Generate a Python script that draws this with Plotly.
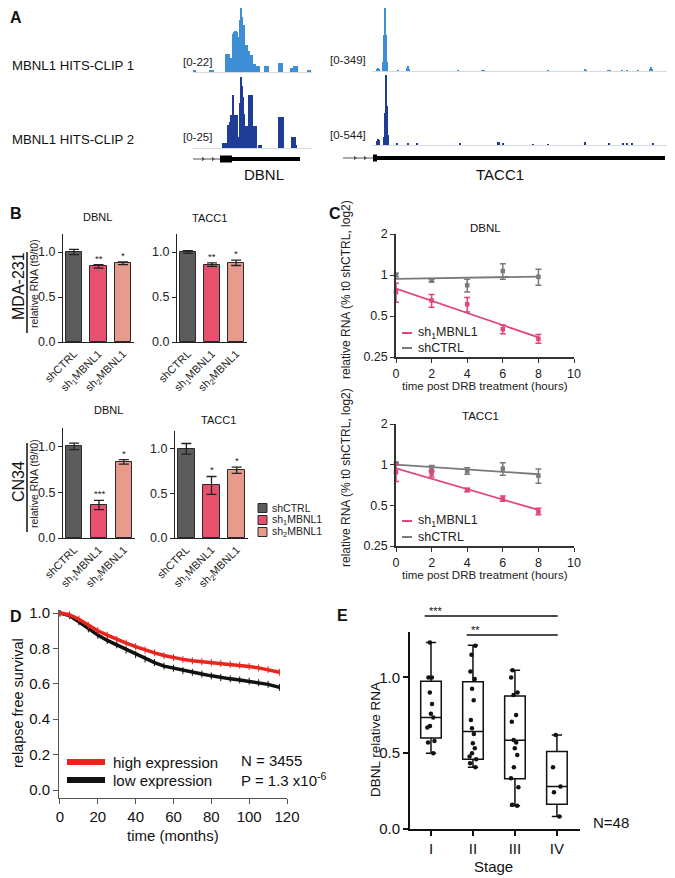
import numpy as np
import plotly.graph_objects as go

# The page body adds an 8 px offset, so the figure is sized to fill the window from there.
OFF = 8
W, H = 675 - OFF, 878 - OFF
FONT = "Liberation Sans, Arial, sans-serif"


def fx(p):
    return (p - OFF) / W


def fy(p):
    return 1 - (p - OFF) / H


# ---------------- Panel A data (coverage tracks) ----------------
dbnl_clip1_pos = [0, 1, 2, 17, 18, 19, 20, 33, 34, 35, 36, 37, 38, 39, 40, 41, 42, 43, 44, 45, 46,
                  47, 48, 49, 50, 51, 52, 53, 54, 55, 56, 57, 58, 59, 60, 61, 62, 64, 65, 66,
                  72, 73, 74, 75, 86, 87, 88, 89, 98, 99, 100, 101, 102, 103, 104, 115, 116, 117]
dbnl_clip1_val = [0.6, 0.6, 0.6, 0.8, 0.8, 0.8, 0.8, 6.3, 6.3, 6.3, 6.3, 4.7, 4.7, 4.7, 13.0, 13.6, 14, 14, 13.6, 12, 12,
                  18, 22, 19, 16, 16, 9.4, 9.4, 9.4, 7.3, 7.3, 5.8, 5.8, 5.8, 2.6, 2.6, 2.6, 2, 2, 2,
                  2, 2, 2, 2, 3, 3, 3, 3, 1.5, 1.5, 1.5, 2, 2, 2, 2, 0.8, 0.8, 0.8]
dbnl_clip2_pos = [30, 31, 32, 33, 34, 35, 36, 37, 38, 39, 40, 41, 42, 43, 44, 45, 46,
                  47, 48, 49, 50, 51, 52, 53, 54, 55, 56, 57, 58, 59, 60, 61, 62, 63,
                  66, 67, 68, 86, 87, 88, 89, 90, 99, 100, 101, 102, 103]
dbnl_clip2_val = [1.7, 1.7, 1.7, 1.7, 1.7, 8, 8, 9, 11.6, 11.6, 18.6, 11.6, 11.6, 11.6, 11.6, 4, 4,
                  16, 25, 22, 18, 12, 7.6, 7.6, 7.6, 7.6, 18.6, 18.6, 18.6, 18.6, 7.6, 7.6, 7.6, 7.6,
                  1, 1, 1, 11, 11, 11, 11, 11, 4, 4, 4, 4, 1]
tacc1_clip1_pos = [34, 35, 36, 40, 41, 42, 43, 44, 55, 64, 65, 66, 115, 139, 141, 205,
                   242, 243, 265, 267, 279, 284, 295, 307, 308, 309]
tacc1_clip1_val = [8, 14, 8, 50, 200, 349, 200, 50, 4, 15, 28, 12, 3, 4, 3, 3,
                   6, 4, 5, 5, 4, 4, 4, 12, 22, 12]
tacc1_clip2_pos = [34, 35, 36, 41, 42, 43, 44, 45, 54, 65, 74, 117, 155, 156, 160, 190,
                   205, 242, 266, 280, 284, 289, 310]
tacc1_clip2_val = [30, 50, 40, 60, 250, 544, 300, 80, 10, 15, 8, 8, 25, 20, 18, 6,
                   6, 20, 8, 12, 12, 12, 8]
dbnl_max = [22, 25]
tacc1_max = [349, 544]

# gene models (intron, first exon, gene body, strand arrows)
dbnl_intron = [0, 27]
dbnl_exon = [27, 39]
dbnl_body = [39, 107]
dbnl_arrows = [10, 20]
tacc1_intron = [0, 30]
tacc1_exon = [30, 34]
tacc1_body = [34, 322]
tacc1_arrows = [12, 22]

# ---------------- Panel B data ----------------
conditions = ["shCTRL", "sh<sub>1</sub>MBNL1", "sh<sub>2</sub>MBNL1"]
cond_colors = ["#5c5c5c", "#e8506e", "#e89b8c"]
mda_dbnl = [1.0, 0.84, 0.875]
mda_dbnl_err = [0.03, 0.02, 0.015]
mda_dbnl_sig = ["", "**", "*"]
mda_tacc1 = [1.0, 0.86, 0.88]
mda_tacc1_err = [0.015, 0.02, 0.03]
mda_tacc1_sig = ["", "**", "*"]
cn34_dbnl = [1.0, 0.36, 0.83]
cn34_dbnl_err = [0.035, 0.05, 0.025]
cn34_dbnl_sig = ["", "***", "*"]
cn34_tacc1 = [1.0, 0.59, 0.76]
cn34_tacc1_err = [0.06, 0.1, 0.035]
cn34_tacc1_sig = ["", "*", "*"]

# ---------------- Panel C data ----------------
hours = [0, 2, 4, 6, 8]
c_dbnl_ctrl = [1.0, 0.91, 0.84, 1.07, 0.97]
c_dbnl_ctrl_err = [0.03, 0.02, 0.09, 0.14, 0.13]
c_dbnl_sh1 = [0.75, 0.65, 0.61, 0.40, 0.34]
c_dbnl_sh1_err = [0.12, 0.07, 0.075, 0.03, 0.025]
c_tacc1_ctrl = [1.02, 0.935, 0.90, 0.935, 0.83]
c_tacc1_ctrl_err = [0.02, 0.05, 0.05, 0.1, 0.1]
c_tacc1_sh1 = [0.88, 0.86, 0.65, 0.56, 0.45]
c_tacc1_sh1_err = [0.13, 0.05, 0.02, 0.025, 0.025]

# ---------------- Panel D data ----------------
months = [0, 5, 10, 15, 20, 25, 30, 35, 40, 45, 50, 55, 60, 65, 70, 75, 80, 85, 90, 95, 100, 105, 110, 116]
surv_high = [1.0, 0.99, 0.965, 0.93, 0.90, 0.875, 0.85, 0.83, 0.81, 0.79, 0.775, 0.76, 0.748, 0.738,
             0.73, 0.725, 0.72, 0.715, 0.71, 0.705, 0.698, 0.69, 0.68, 0.665]
surv_low = [1.0, 0.985, 0.95, 0.91, 0.875, 0.845, 0.82, 0.79, 0.765, 0.74, 0.72, 0.70, 0.688, 0.675,
            0.665, 0.655, 0.645, 0.635, 0.628, 0.622, 0.615, 0.606, 0.597, 0.58]

# ---------------- Panel E data ----------------
stages = ["I", "II", "III", "IV"]
stage_points = [
    [1.23, 1.0, 1.0, 0.90, 0.825, 0.76, 0.735, 0.68, 0.67, 0.58, 0.57, 0.50],
    [1.21, 1.15, 1.04, 0.99, 0.925, 0.85, 0.72, 0.665, 0.627, 0.566, 0.533, 0.50, 0.478, 0.46, 0.434, 0.408],
    [1.048, 1.0, 0.90, 0.885, 0.752, 0.708, 0.588, 0.57, 0.533, 0.489, 0.408, 0.335, 0.276, 0.16, 0.153],
    [0.62, 0.408, 0.281, 0.243, 0.083],
]
box_low = [0.50, 0.408, 0.153, 0.083]
box_q1 = [0.60, 0.46, 0.331, 0.164]
box_med = [0.735, 0.643, 0.585, 0.281]
box_q3 = [0.975, 0.971, 0.877, 0.511]
box_high = [1.23, 1.213, 1.048, 0.62]

fig = go.Figure()
layout = {}


def clamp(v):
    return max(0.0, min(1.0, v))


def add_axes(n, xd, yd, **kw):
    xa = dict(domain=[clamp(fx(xd[0])), clamp(fx(xd[1]))], anchor=f"y{n}", showgrid=False, zeroline=False,
              automargin=False)
    ya = dict(domain=[clamp(fy(yd[1])), clamp(fy(yd[0]))], anchor=f"x{n}", showgrid=False, zeroline=False,
              automargin=False)
    xa.update(kw.get("x", {}))
    ya.update(kw.get("y", {}))
    layout["xaxis" if n == 1 else f"xaxis{n}"] = xa
    layout["yaxis" if n == 1 else f"yaxis{n}"] = ya


def ax(n):
    return ("x" if n == 1 else f"x{n}"), ("y" if n == 1 else f"y{n}")


# ---- Panel A ----
blue1, blue2 = "#3e8fd6", "#1f3d97"
track_x = dict(showticklabels=False, ticks="", showline=True, linecolor="#d5dae3", linewidth=1)
hid = dict(visible=False)
add_axes(1, (193, 312), (2, 72), x=dict(range=[0, 119], **track_x), y=dict(range=[0, dbnl_max[0]], **hid))
add_axes(2, (193, 312), (77, 148), x=dict(range=[0, 119], **track_x), y=dict(range=[0, dbnl_max[1]], **hid))
add_axes(3, (193, 312), (153, 165), x=dict(range=[0, 119], **hid), y=dict(range=[-1, 1], **hid))
add_axes(4, (372, 675), (2, 71), x=dict(range=[29, 332], **track_x), y=dict(range=[0, tacc1_max[0]], **hid))
add_axes(5, (372, 675), (75, 145), x=dict(range=[29, 332], **track_x), y=dict(range=[0, tacc1_max[1]], **hid))
add_axes(6, (343, 675), (152, 164), x=dict(range=[0, 332], **hid), y=dict(range=[-1, 1], **hid))

for n, pos, val, col in [(1, dbnl_clip1_pos, dbnl_clip1_val, blue1), (2, dbnl_clip2_pos, dbnl_clip2_val, blue2),
                         (4, tacc1_clip1_pos, tacc1_clip1_val, blue1), (5, tacc1_clip2_pos, tacc1_clip2_val, blue2)]:
    xr, yr = ax(n)
    fig.add_trace(go.Bar(x=pos, y=val, width=1, marker=dict(color=col, line=dict(width=0)),
                         xaxis=xr, yaxis=yr, showlegend=False))

for n, intron, exon, body, arrows in [(3, dbnl_intron, dbnl_exon, dbnl_body, dbnl_arrows),
                                      (6, tacc1_intron, tacc1_exon, tacc1_body, tacc1_arrows)]:
    xr, yr = ax(n)
    fig.add_trace(go.Scatter(x=intron, y=[0, 0], mode="lines", line=dict(color="#555", width=1),
                             xaxis=xr, yaxis=yr, showlegend=False))
    fig.add_trace(go.Scatter(x=arrows, y=[0] * len(arrows), mode="markers",
                             marker=dict(symbol="triangle-right", size=4, color="#555"),
                             xaxis=xr, yaxis=yr, showlegend=False))
    fig.add_trace(go.Scatter(x=exon, y=[0, 0], mode="lines", line=dict(color="#000", width=7),
                             xaxis=xr, yaxis=yr, showlegend=False))
    fig.add_trace(go.Scatter(x=body, y=[0, 0], mode="lines", line=dict(color="#000", width=4),
                             xaxis=xr, yaxis=yr, showlegend=False))

# ---- Panel B ----
annotations = []
shapes = []
bx = dict(type="category", range=[-0.45, 2.45], showline=True, linecolor="#222", linewidth=1.3,
          tickangle=-45, tickfont=dict(size=11, color="#222", family=FONT), ticks="")
by = dict(range=[0, 1.2], showline=True, linecolor="#222", linewidth=1.3, ticks="outside", ticklen=4,
          tickwidth=1.2, tickcolor="#222", tickvals=[0, 0.5, 1.0], ticktext=["0.0", "0.5", "1.0"],
          tickfont=dict(size=12.5, color="#222", family=FONT))
add_axes(7, (63, 134), (234, 342), x=dict(bx), y=dict(by))
add_axes(8, (177, 247), (234, 342), x=dict(bx), y=dict(by))
add_axes(9, (63, 135), (428, 538), x=dict(bx), y=dict(by))
add_axes(10, (175, 248), (431, 538), x=dict(bx), y=dict(by))

for n, vals, errs, sig in [(7, mda_dbnl, mda_dbnl_err, mda_dbnl_sig), (8, mda_tacc1, mda_tacc1_err, mda_tacc1_sig),
                           (9, cn34_dbnl, cn34_dbnl_err, cn34_dbnl_sig), (10, cn34_tacc1, cn34_tacc1_err, cn34_tacc1_sig)]:
    xr, yr = ax(n)
    fig.add_trace(go.Bar(x=conditions, y=vals, width=0.66,
                         marker=dict(color=cond_colors, line=dict(color="#2a2a2a", width=1)),
                         error_y=dict(type="data", array=errs, color="#222", thickness=1.3, width=5),
                         xaxis=xr, yaxis=yr, showlegend=False))
    for c, v, e, s in zip(conditions, vals, errs, sig):
        if s:
            annotations.append(dict(xref=xr, yref=yr, x=c, y=v + e, text=s, showarrow=False, yanchor="bottom",
                                    yshift=-1, font=dict(size=9.5, color="#222", family=FONT)))

# ---- Panel C ----
cx = dict(range=[0, 10], showline=True, linecolor="#333", linewidth=1.5, ticks="outside", ticklen=4,
          tickcolor="#333", tickvals=[0, 2, 4, 6, 8, 10], tickfont=dict(size=12.5, color="#222", family=FONT))
cy = dict(type="log", range=[np.log10(0.25), np.log10(2)], showline=True, linecolor="#333", linewidth=1.5,
          ticks="outside", ticklen=4, tickcolor="#333", tickvals=[0.25, 0.5, 1, 2],
          ticktext=["0.25", "0.5", "1", "2"], tickfont=dict(size=12.5, color="#222", family=FONT))
add_axes(11, (396, 574), (234, 357), x=dict(cx), y=dict(cy))
add_axes(12, (396, 574), (424, 546), x=dict(cx), y=dict(cy))
pink, grey = "#e0457b", "#7a7a7a"
for n, ctrl, ctrl_e, sh1, sh1_e in [(11, c_dbnl_ctrl, c_dbnl_ctrl_err, c_dbnl_sh1, c_dbnl_sh1_err),
                                    (12, c_tacc1_ctrl, c_tacc1_ctrl_err, c_tacc1_sh1, c_tacc1_sh1_err)]:
    xr, yr = ax(n)
    for vals, errs, col in [(ctrl, ctrl_e, grey), (sh1, sh1_e, pink)]:
        k, b = np.polyfit(hours, np.log2(vals), 1)
        xs = [min(hours), max(hours)]
        fig.add_trace(go.Scatter(x=xs, y=[2 ** (b + k * t) for t in xs], mode="lines",
                                 line=dict(color=col, width=1.8), xaxis=xr, yaxis=yr, showlegend=False))
        fig.add_trace(go.Scatter(x=hours, y=vals, mode="markers",
                                 marker=dict(symbol="square", size=4.5, color=col),
                                 error_y=dict(type="data", array=errs, color=col, thickness=1.5, width=3),
                                 xaxis=xr, yaxis=yr, showlegend=False, cliponaxis=False))

# ---- Panel D ----
add_axes(13, (59, 287), (610, 798),
         x=dict(range=[-0.5, 120], showline=True, linecolor="#555", linewidth=1, ticks="outside", ticklen=5,
                tickcolor="#555", tickvals=[0, 20, 40, 60, 80, 100, 120],
                tickfont=dict(size=15, color="#111", family=FONT)),
         y=dict(range=[-0.045, 1.017], showline=True, linecolor="#555", linewidth=1, ticks="outside", ticklen=5,
                tickcolor="#555", tickvals=[0, 0.2, 0.4, 0.6, 0.8, 1.0],
                ticktext=["0.0", "0.2", "0.4", "0.6", "0.8", "1.0"], tickfont=dict(size=15, color="#111", family=FONT)))
for vals, col in [(surv_low, "#111111"), (surv_high, "#e8261e")]:
    fig.add_trace(go.Scatter(x=months, y=vals, mode="lines+markers", line=dict(color=col, width=3.5),
                             marker=dict(symbol="line-ns", size=5, line=dict(color=col, width=1)),
                             xaxis="x13", yaxis="y13", showlegend=False))

# ---- Panel E ----
add_axes(14, (410, 580), (632, 829),
         x=dict(type="category", range=[-0.5, 3.55], showline=True, linecolor="#111", linewidth=2,
                ticks="outside", ticklen=5, tickwidth=2, tickcolor="#111",
                tickfont=dict(size=15, color="#111", family=FONT)),
         y=dict(range=[0, 1.3], showline=True, linecolor="#111", linewidth=2, ticks="outside", ticklen=5,
                tickwidth=2, tickcolor="#111", tickvals=[0, 0.5, 1.0], ticktext=["0.0", "0.5", "1.0"],
                tickfont=dict(size=15, color="#111", family=FONT)))
fig.add_trace(go.Box(x=stages, q1=box_q1, median=box_med, q3=box_q3, lowerfence=box_low, upperfence=box_high,
                     fillcolor="white", line=dict(color="#111", width=1.5), whiskerwidth=0.5,
                     boxpoints=False, xaxis="x14", yaxis="y14", showlegend=False))
for s, pts in zip(stages, stage_points):
    fig.add_trace(go.Box(x=[s] * len(pts), y=pts, boxpoints="all", jitter=0.45, pointpos=0,
                         fillcolor="rgba(0,0,0,0)", line=dict(color="rgba(0,0,0,0)", width=0),
                         marker=dict(color="#111", size=4.5), xaxis="x14", yaxis="y14", showlegend=False,
                         hoveron="points"))

# significance bars (panel E)
for a, b, txt, ypx in [("I", "IV", "***", 616), ("II", "IV", "**", 635)]:
    ia, ib = stages.index(a), stages.index(b)
    shapes.append(dict(type="line", xref="x14", yref="paper", x0=ia - 0.15, x1=ib + 0.02, y0=fy(ypx), y1=fy(ypx),
                       line=dict(color="#111", width=1.5)))
    annotations.append(dict(xref="x14", yref="paper", x=ia - 0.1, y=fy(ypx), text=txt, showarrow=False,
                            xanchor="left", yanchor="bottom", yshift=-3, font=dict(size=11, color="#111", family=FONT)))


# ---- text annotations ----
def ann(text, x, y, size, xa="center", ya="middle", angle=0, color="#111"):
    annotations.append(dict(xref="paper", yref="paper", x=fx(x), y=fy(y), text=text, showarrow=False,
                            xanchor=xa, yanchor=ya, textangle=angle,
                            font=dict(size=size, color=color, family=FONT)))


# panel letters
for letter, x, y in [("A", 16, 17), ("B", 16, 214), ("C", 335, 214), ("D", 16, 616), ("E", 342, 615)]:
    ann(f"<b>{letter}</b>", x, y, 16)

# Panel A texts
ann("MBNL1 HITS-CLIP 1", 10, 66, 13.2, xa="left")
ann("MBNL1 HITS-CLIP 2", 10, 140, 13.2, xa="left")
ann(f"[0-{dbnl_max[0]}]", 214, 62, 11.5, xa="right", color="#222")
ann(f"[0-{dbnl_max[1]}]", 214, 137, 11.5, xa="right", color="#222")
ann(f"[0-{tacc1_max[0]}]", 368, 60, 11.5, xa="right", color="#222")
ann(f"[0-{tacc1_max[1]}]", 368, 135, 11.5, xa="right", color="#222")
ann("DBNL", 264, 174, 15)
ann("TACC1", 500, 174, 15)

# Panel B texts
ann("DBNL", 97, 217, 11)
ann("TACC1", 209, 218, 11)
ann("DBNL", 108, 410, 11)
ann("TACC1", 218, 420, 11)
ann("MDA-231", 18, 286, 16, angle=-90)
ann("relative RNA (t9/t0)", 34, 284, 10.5, angle=-90, color="#222")
ann("CN34", 18, 482, 16, angle=-90)
ann("relative RNA (t9/t0)", 34, 484, 10.5, angle=-90, color="#222")
shapes.append(dict(type="line", xref="paper", yref="paper", x0=fx(27), x1=fx(27), y0=fy(252), y1=fy(333),
                   line=dict(color="#111", width=1.5)))
shapes.append(dict(type="line", xref="paper", yref="paper", x0=fx(27), x1=fx(27), y0=fy(443), y1=fy(532),
                   line=dict(color="#111", width=1.5)))
for i, (lab, col) in enumerate(zip(conditions, cond_colors)):
    yc = 508 + 12 * i
    shapes.append(dict(type="rect", xref="paper", yref="paper", x0=fx(258), x1=fx(267), y0=fy(yc + 4.5),
                       y1=fy(yc - 4.5), fillcolor=col, line=dict(color="#2a2a2a", width=1)))
    ann(lab, 270, yc, 10.5, xa="left", color="#222")

# Panel C texts
ann("DBNL", 485, 228, 11.5)
ann("TACC1", 481, 416, 11.5)
for yc in (386, 575):
    ann("time post DRB treatment (hours)", 485, yc, 11.5, color="#222")
for yc in (290, 478):
    ann("relative RNA (% t0 shCTRL, log2)", 346, yc, 12, angle=-90, color="#222")
for y1, y2 in ((333, 348), (521, 537)):
    shapes.append(dict(type="line", xref="paper", yref="paper", x0=fx(402), x1=fx(412), y0=fy(y1), y1=fy(y1),
                       line=dict(color=pink, width=2)))
    shapes.append(dict(type="line", xref="paper", yref="paper", x0=fx(402), x1=fx(412), y0=fy(y2), y1=fy(y2),
                       line=dict(color=grey, width=2)))
    ann("sh<sub>1</sub>MBNL1", 416, y1, 12.5, xa="left", color="#222")
    ann("shCTRL", 416, y2, 12.5, xa="left", color="#222")

# Panel D texts
ann("time (months)", 173, 835, 15)
ann("relapse free survival", 18, 703, 14.5, angle=-90)
shapes.append(dict(type="line", xref="paper", yref="paper", x0=fx(67), x1=fx(105), y0=fy(762), y1=fy(762),
                   line=dict(color="#e8261e", width=6)))
shapes.append(dict(type="line", xref="paper", yref="paper", x0=fx(67), x1=fx(105), y0=fy(780), y1=fy(780),
                   line=dict(color="#111", width=6)))
ann("high expression", 111, 762, 15, xa="left")
ann("low expression", 111, 780, 15, xa="left")
ann("N = 3455", 239, 760, 15, xa="left")
ann("P = 1.3 x10<sup>-6</sup>", 239, 779, 15, xa="left")

# Panel E texts
ann("DBNL relative RNA", 375, 740, 13.5, angle=-90)
ann("Stage", 493, 866, 15)
ann("N=48", 611, 822, 15)

layout.update(dict(width=W, height=H, margin=dict(l=0, r=0, t=0, b=0, autoexpand=False), paper_bgcolor="white",
                   plot_bgcolor="rgba(0,0,0,0)", bargap=0, barmode="overlay", boxmode="overlay",
                   font=dict(family=FONT, color="#111"), annotations=annotations, shapes=shapes,
                   showlegend=False))
fig.update_layout(**layout)
fig.write_html("out.html")
